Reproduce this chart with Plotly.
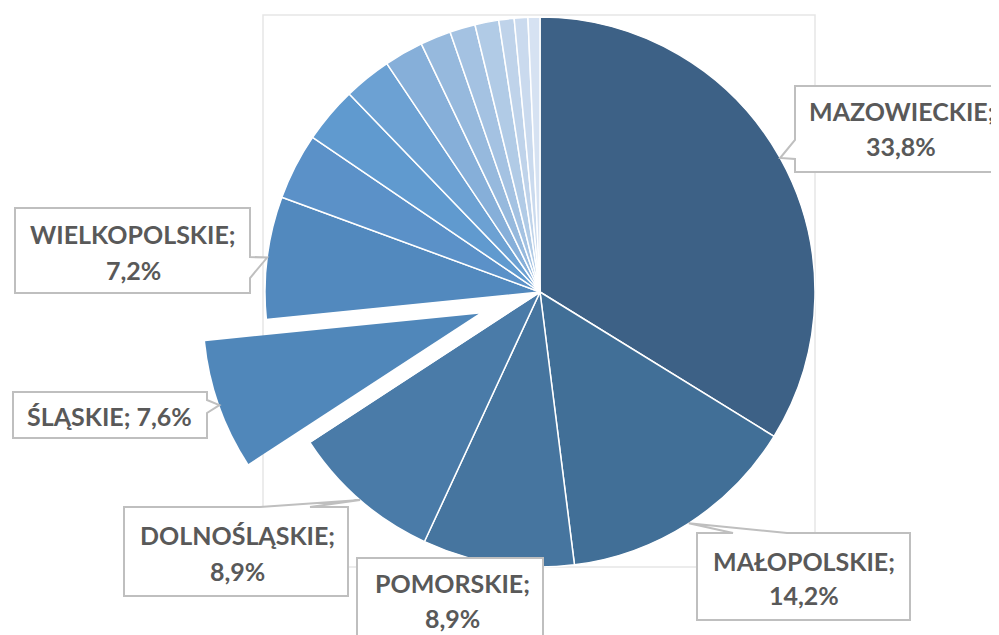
import math
import plotly.graph_objects as go

# ---------------- data ----------------
regions = ["MAZOWIECKIE", "MAŁOPOLSKIE", "POMORSKIE", "DOLNOŚLĄSKIE", "ŚLĄSKIE",
           "WIELKOPOLSKIE", "ŁÓDZKIE", "LUBELSKIE", "KUJAWSKO-POMORSKIE",
           "ZACHODNIOPOMORSKIE", "PODKARPACKIE", "WARMIŃSKO-MAZURSKIE", "PODLASKIE",
           "ŚWIĘTOKRZYSKIE", "OPOLSKIE", "LUBUSKIE"]
shares = [33.8, 14.2, 8.9, 8.9, 7.6, 7.2, 3.9, 3.3, 2.8, 2.3, 1.8, 1.5, 1.4, 0.9, 0.8, 0.7]
colors = ["#3D6186", "#416F97", "#46759F", "#4A7BA8", "#5087BA", "#5289BE",
          "#5B91C8", "#609ACF", "#6CA1D3", "#86AFD9", "#96B9DD", "#A4C2E2",
          "#B1CBE6", "#BFD3EA", "#CADAEE", "#D6E2F2"]
pulled_region = "ŚLĄSKIE"

# ---------------- layout constants (pixels of the 999x635 page) ----------------
PAGE_W, PAGE_H = 999, 635
OFF = 8                       # default body margin of the html page
W, H = PAGE_W - OFF, PAGE_H - OFF
CX, CY, R = 540, 292, 275
PULL_PX = 65
TEXT_COLOR = "#595959"
BORDER = "#BFBFBF"
FONT_SIZE = 25

# label boxes: box (x0,y0,x1,y1), pointer side, pointer base (a,b), text line centres
callouts = {
    "MAZOWIECKIE":   dict(box=(795, 86, 1003, 172), side="left", base=(140, 159),
                          tx=901, ty=(111, 146)),
    "MAŁOPOLSKIE":   dict(box=(697, 533, 910, 620), side="top", base=(733, 787),
                          tx=804, ty=(561, 595)),
    "POMORSKIE":     dict(box=(357, 558, 543, 646), side=None, base=None,
                          tx=452, ty=(583, 618)),
    "DOLNOŚLĄSKIE":  dict(box=(124, 507, 348, 596), side="top", base=(260, 310),
                          tx=237, ty=(535, 571)),
    "ŚLĄSKIE":       dict(box=(13, 392, 207, 438), side="right", base=(400, 413),
                          tx=109, ty=(416,)),
    "WIELKOPOLSKIE": dict(box=(15, 208, 250, 293), side="right", base=(257, 278),
                          tx=133, ty=(234, 270)),
}


def pxx(x):
    return (x - OFF) / W


def pxy(y):
    return 1 - (y - OFF) / H


total = sum(shares)
cum = 0.0
mid_angle = {}
for name, v in zip(regions, shares):
    mid_angle[name] = (cum + v / 2) / total * 360.0
    cum += v

th = math.radians(mid_angle[pulled_region])
off_x = PULL_PX * math.sin(th)
off_y = -PULL_PX * math.cos(th)

dom_main = dict(x=[pxx(CX - R), pxx(CX + R)], y=[pxy(CY + R), pxy(CY - R)])
dom_pull = dict(x=[pxx(CX - R + off_x), pxx(CX + R + off_x)],
                y=[pxy(CY + R + off_y), pxy(CY - R + off_y)])

main_colors = [("rgba(0,0,0,0)" if n == pulled_region else c) for n, c in zip(regions, colors)]
pull_colors = [(c if n == pulled_region else "rgba(0,0,0,0)") for n, c in zip(regions, colors)]

fig = go.Figure()
fig.add_trace(go.Pie(
    labels=regions, values=shares, sort=False, direction="clockwise", rotation=0,
    marker=dict(colors=main_colors, line=dict(color="white", width=1.5)),
    textinfo="none", hoverinfo="label+percent", domain=dom_main, showlegend=False,
))
fig.add_trace(go.Pie(
    labels=regions, values=shares, sort=False, direction="clockwise", rotation=0,
    marker=dict(colors=pull_colors, line=dict(color="rgba(0,0,0,0)", width=0)),
    textinfo="none", hoverinfo="skip", domain=dom_pull, showlegend=False,
))

shapes = [dict(type="rect", xref="paper", yref="paper", layer="below",
               x0=pxx(263), x1=pxx(815), y0=pxy(567), y1=pxy(15),
               line=dict(color="#E6E6E6", width=1.5), fillcolor="rgba(0,0,0,0)")]

annotations = []
for name, cfg in callouts.items():
    x0, y0, x1, y1 = cfg["box"]
    t = math.radians(mid_angle[name])
    tipx = CX + R * math.sin(t)
    tipy = CY - R * math.cos(t)
    if name == pulled_region:
        tipx += off_x
        tipy += off_y
    pts = [(x0, y0)]
    side = cfg["side"]
    if side == "top":
        a, b = cfg["base"]
        pts += [(a, y0), (tipx, tipy), (b, y0)]
    pts += [(x1, y0)]
    if side == "right":
        a, b = cfg["base"]
        pts += [(x1, a), (tipx, tipy), (x1, b)]
    pts += [(x1, y1)]
    pts += [(x0, y1)]
    if side == "left":
        a, b = cfg["base"]
        pts += [(x0, b), (tipx, tipy), (x0, a)]
    path = "M " + " L ".join(f"{pxx(px):.5f},{pxy(py):.5f}" for px, py in pts) + " Z"
    shapes.append(dict(type="path", xref="paper", yref="paper", layer="above", path=path,
                       fillcolor="white", line=dict(color=BORDER, width=2)))
    v = shares[regions.index(name)]
    pct = f"{v:.1f}".replace(".", ",") + "%"
    if len(cfg["ty"]) == 1:
        lines = [f"{name}; {pct}"]
    else:
        lines = [f"{name};", pct]
    for txt, ty in zip(lines, cfg["ty"]):
        annotations.append(dict(
            x=pxx(cfg["tx"]), y=pxy(ty), xref="paper", yref="paper",
            xanchor="center", yanchor="middle", align="center", showarrow=False,
            text=txt,
            font=dict(family="Lato", size=FONT_SIZE, color=TEXT_COLOR, weight="bold"),
        ))

fig.update_layout(
    width=W, height=H, margin=dict(l=0, r=0, t=0, b=0),
    paper_bgcolor="white", plot_bgcolor="white",
    shapes=shapes, annotations=annotations, showlegend=False,
)

fig.write_html("out.html")
